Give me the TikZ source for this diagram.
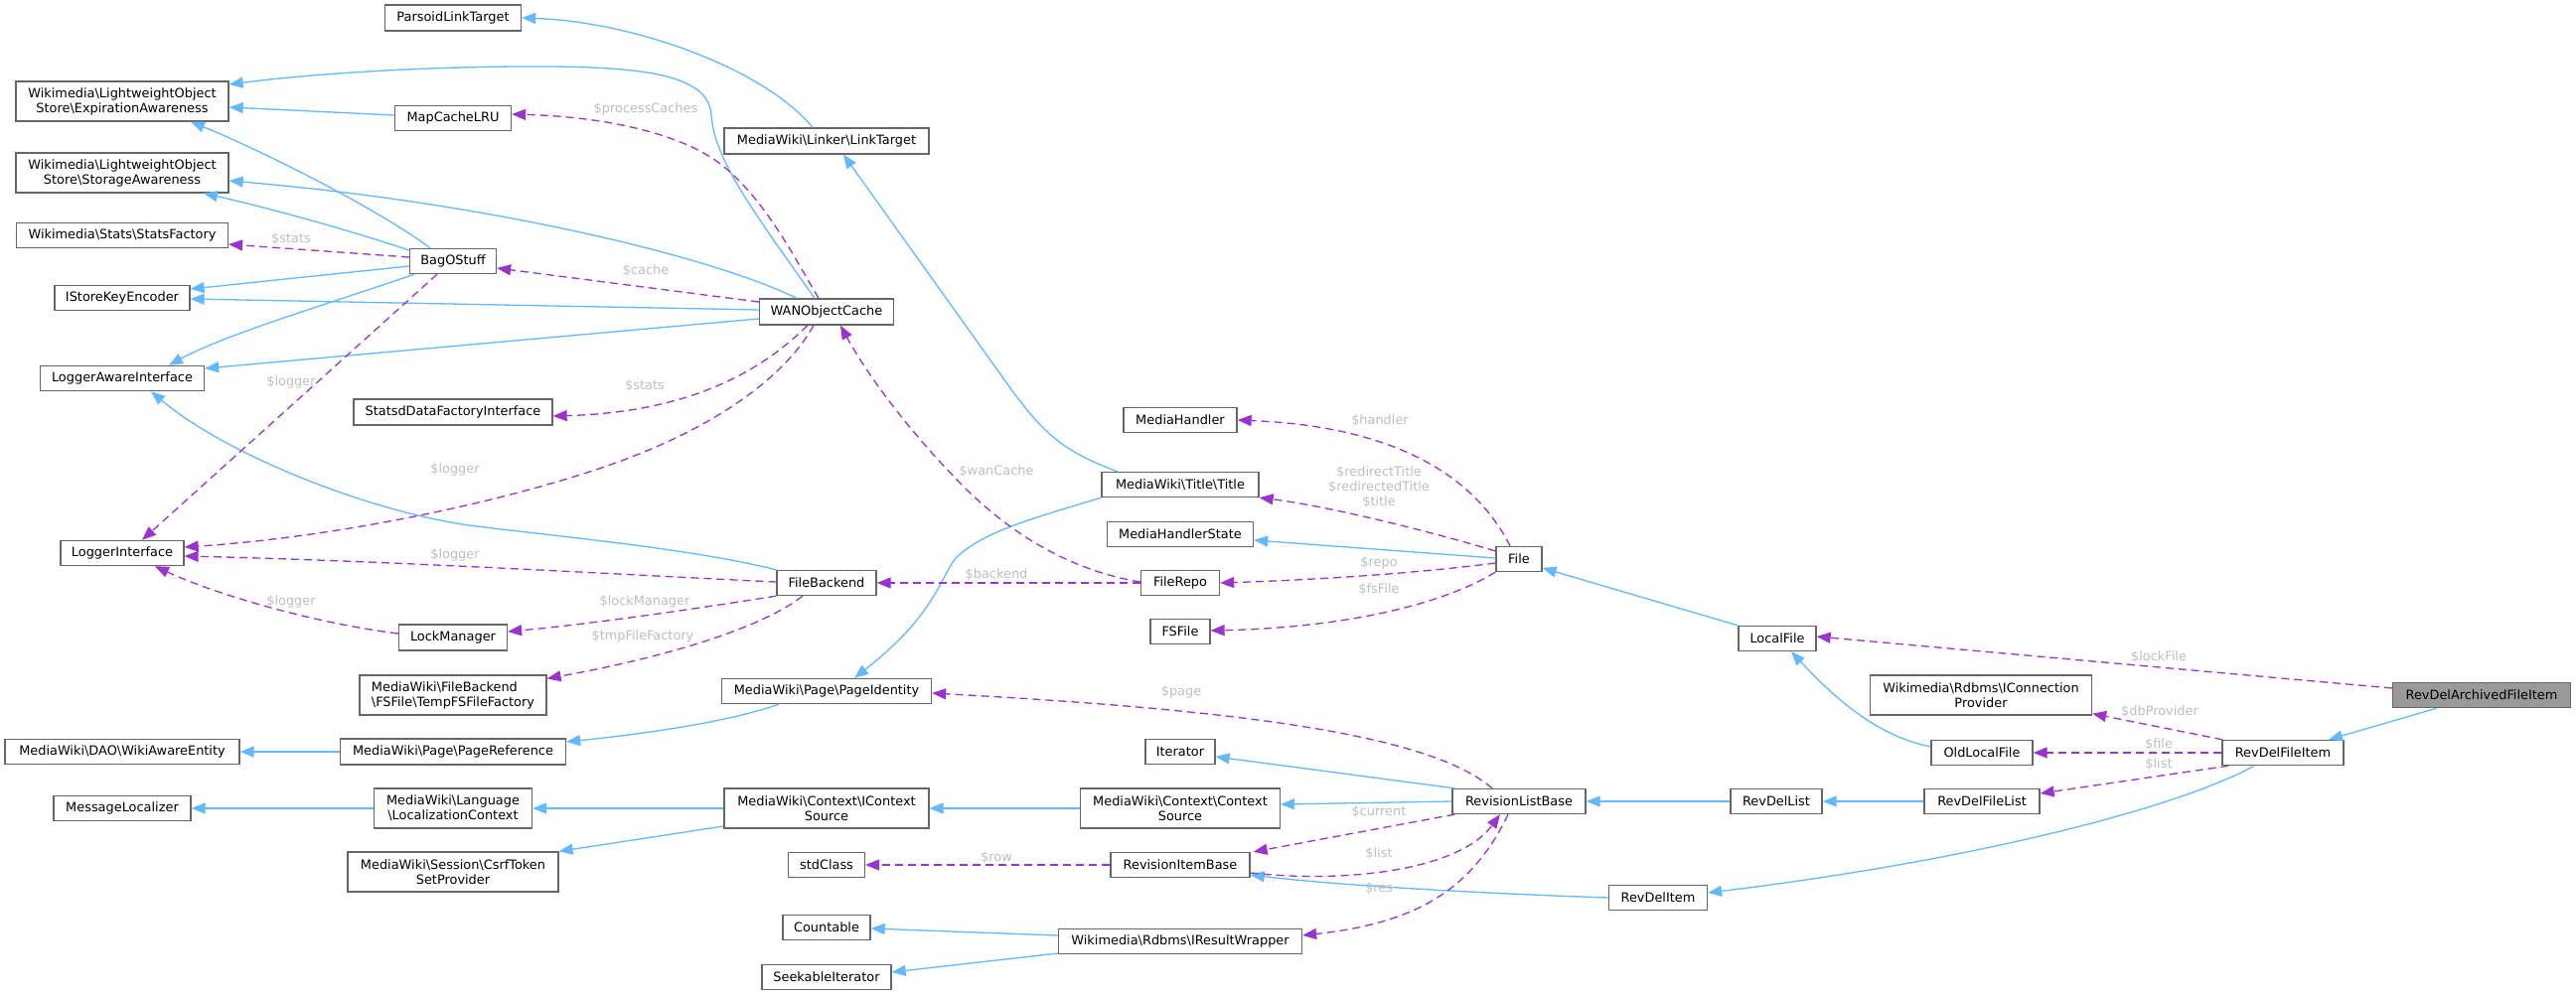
\documentclass[tikz,border=0pt]{standalone}
\usepackage{fontspec}
\setmainfont{DejaVu Sans}
\usetikzlibrary{arrows.meta}
\definecolor{inhc}{HTML}{63B8FF}
\definecolor{usec}{HTML}{9A32CD}
\definecolor{lblc}{HTML}{BEBEBE}
\definecolor{boxc}{HTML}{666666}
\definecolor{mainfill}{HTML}{999999}
\newcommand{\dgfont}{\fontsize{12.9}{15}\selectfont}
\newcommand{\bks}{\textbackslash{}}
\begin{document}
\begin{tikzpicture}[x=1pt,y=-1pt,
  box/.style={draw=boxc, line width=1.3pt, fill=white, inner sep=0pt, minimum height=25pt, align=center, font=\dgfont, text=black},
  inh/.style={draw=inhc, line width=1.3pt, -{Triangle[length=14pt,width=11pt]}},
  use/.style={draw=usec, line width=1.3pt, dash pattern=on 8pt off 5pt, -{Triangle[length=14pt,width=11pt]}},
  lbl/.style={text=lblc, font=\dgfont, inner sep=0pt, align=center},
]
\useasboundingbox (0,0) rectangle (2593,1001);
\fill[white] (0,0) rectangle (2593,1001);

% column A
\node[box, minimum width=214pt, minimum height=40pt] (exp) at (123,102) {Wikimedia\bks LightweightObject\\Store\bks ExpirationAwareness};
\node[box, minimum width=214pt, minimum height=40pt] (sto) at (123,174) {Wikimedia\bks LightweightObject\\Store\bks StorageAwareness};
\node[box, minimum width=213pt] (sfac) at (123,237) {Wikimedia\bks Stats\bks StatsFactory};
\node[box, minimum width=136pt] (iske) at (123,300) {IStoreKeyEncoder};
\node[box, minimum width=165pt] (lai) at (123,381) {LoggerAwareInterface};
\node[box, minimum width=124pt] (li) at (123,557) {LoggerInterface};
\node[box, minimum width=236pt] (wae) at (123,757) {MediaWiki\bks DAO\bks WikiAwareEntity};
\node[box, minimum width=138pt] (ml) at (123,814) {MessageLocalizer};
% column B
\node[box, minimum width=137pt, minimum height=26pt] (plt) at (456,18) {ParsoidLinkTarget};
\node[box, minimum width=117pt] (mcl) at (456,119) {MapCacheLRU};
\node[box, minimum width=87pt] (bag) at (456,263) {BagOStuff};
\node[box, minimum width=200pt, minimum height=26pt] (sdf) at (456,415) {StatsdDataFactoryInterface};
\node[box, minimum width=109pt, minimum height=26pt] (lock) at (456,642) {LockManager};
\node[box, minimum width=188pt, minimum height=40pt, align=left] (tmp) at (456,700) {MediaWiki\bks FileBackend\\\bks FSFile\bks TempFSFileFactory};
\node[box, minimum width=227pt, minimum height=26pt] (pref) at (456,757) {MediaWiki\bks Page\bks PageReference};
\node[box, minimum width=159pt, minimum height=40pt] (lctx) at (456,814) {MediaWiki\bks Language\\\bks LocalizationContext};
\node[box, minimum width=212pt, minimum height=40pt] (csrf) at (456,878) {MediaWiki\bks Session\bks CsrfToken\\SetProvider};
% column C
\node[box, minimum width=206pt, minimum height=26pt] (lt) at (832,142) {MediaWiki\bks Linker\bks LinkTarget};
\node[box, minimum width=135pt, minimum height=26pt] (wan) at (832,314) {WANObjectCache};
\node[box, minimum width=100pt] (fb) at (832,587) {FileBackend};
\node[box, minimum width=211pt] (pid) at (832,696) {MediaWiki\bks Page\bks PageIdentity};
\node[box, minimum width=206pt, minimum height=40pt] (ics) at (832,814) {MediaWiki\bks Context\bks IContext\\Source};
\node[box, minimum width=77pt] (std) at (832,871) {stdClass};
\node[box, minimum width=88pt] (cnt) at (832,934) {Countable};
\node[box, minimum width=130pt] (seek) at (832,984) {SeekableIterator};
% column D
\node[box, minimum width=114pt] (mh) at (1188,423) {MediaHandler};
\node[box, minimum width=158pt] (title) at (1188,488) {MediaWiki\bks Title\bks Title};
\node[box, minimum width=147pt] (mhs) at (1188,538) {MediaHandlerState};
\node[box, minimum width=79pt] (repo) at (1188,587) {FileRepo};
\node[box, minimum width=60pt] (fsf) at (1188,636) {FSFile};
\node[box, minimum width=70pt] (iter) at (1188,757) {Iterator};
\node[box, minimum width=201pt, minimum height=40pt] (cs) at (1188,814) {MediaWiki\bks Context\bks Context\\Source};
\node[box, minimum width=140pt] (rib) at (1188,871) {RevisionItemBase};
\node[box, minimum width=245pt] (irw) at (1188,948) {Wikimedia\bks Rdbms\bks IResultWrapper};
% right part
\node[box, minimum width=46pt] (file) at (1529,563) {File};
\node[box, minimum width=134pt] (rlb) at (1529,807) {RevisionListBase};
\node[box, minimum width=78pt] (lf) at (1789,643) {LocalFile};
\node[box, minimum width=92pt] (rdl) at (1788,807) {RevDelList};
\node[box, minimum width=99pt] (rdi) at (1669,904) {RevDelItem};
\node[box, minimum width=223pt, minimum height=40pt] (icp) at (1994,700) {Wikimedia\bks Rdbms\bks IConnection\\Provider};
\node[box, minimum width=102pt] (olf) at (1995,758) {OldLocalFile};
\node[box, minimum width=116pt] (rdfl) at (1995,807) {RevDelFileList};
\node[box, minimum width=122pt] (rdfi) at (2298,758) {RevDelFileItem};
\node[box, minimum width=179pt, fill=mainfill] (main) at (2498,700) {RevDelArchivedFileItem};

% inheritance edges
\draw[inh] ([shift={(-14,0)}]lt.north) .. controls (770,70) and (640,22) .. (plt.east);
\draw[inh] ([shift={(-12,0)}]wan.north) .. controls (760,215) and (718,160) .. (716,115) .. controls (712,75) and (650,66) .. (520,67) .. controls (400,68) and (300,76) .. ([shift={(0,-17)}]exp.east);
\draw[inh] ([shift={(0,-3)}]mcl.west) -- ([shift={(0,6)}]exp.east);
\draw[inh] ([shift={(-23,0)}]bag.north) .. controls (380,210) and (260,150) .. ([shift={(69,0)}]exp.south);
\draw[inh] ([shift={(0,-11)}]bag.west) .. controls (340,228) and (260,207) .. ([shift={(82,0)}]sto.south);
\draw[inh] ([shift={(-30,0)}]wan.north) .. controls (720,260) and (500,205) .. ([shift={(0,8)}]sto.east);
\draw[inh] ([shift={(0,5)}]bag.west) -- ([shift={(0,-9)}]iske.east);
\draw[inh] ([shift={(0,-2)}]wan.west) -- ([shift={(0,1)}]iske.east);
\draw[inh] ([shift={(-39,0)}]bag.south) .. controls (350,300) and (230,335) .. ([shift={(47,0)}]lai.north);
\draw[inh] ([shift={(0,7)}]wan.west) -- ([shift={(0,-10)}]lai.east);
\draw[inh] (fb.north west) .. controls (700,553) and (560,540) .. (480,530) .. controls (380,518) and (230,460) .. ([shift={(29,0)}]lai.south);
\draw[inh] ([shift={(-63,0)}]title.north) .. controls (1070,455) and (1050,435) .. (1020,395) -- ([shift={(17,0)}]lt.south);
\draw[inh] (title.south west) .. controls (1040,522) and (990,535) .. (962,562) .. controls (945,585) and (940,620) .. ([shift={(28,0)}]pid.north);
\draw[inh] ([shift={(-48,0)}]pid.south) .. controls (740,725) and (660,738) .. ([shift={(0,-10)}]pref.east);
\draw[inh] (pref.west) -- (wae.east);
\draw[inh] (lctx.west) -- (ml.east);
\draw[inh] (ics.west) -- (lctx.east);
\draw[inh] ([shift={(0,18)}]ics.west) -- (csrf.north east);
\draw[inh] (cs.west) -- (ics.east);
\draw[inh] (rlb.west) -- ([shift={(0,-4)}]cs.east);
\draw[inh] ([shift={(3,0)}]rlb.north west) -- ([shift={(0,5)}]iter.east);
\draw[inh] (rdl.west) -- (rlb.east);
\draw[inh] (rdfl.west) -- (rdl.east);
\draw[inh] (rdi.west) .. controls (1500,900) and (1350,892) .. ([shift={(0,10)}]rib.east);
\draw[inh] ([shift={(-29,0)}]rdfi.south) .. controls (2200,810) and (2000,865) .. ([shift={(0,-5)}]rdi.east);
\draw[inh] ([shift={(-45,0)}]main.south) -- ([shift={(46,0)}]rdfi.north);
\draw[inh] ([shift={(0,-6)}]olf.west) .. controls (1895,742) and (1855,712) .. ([shift={(14,0)}]lf.south);
\draw[inh] (lf.north west) -- ([shift={(0,9)}]file.east);
\draw[inh] ([shift={(0,-1)}]file.west) -- ([shift={(0,6)}]mhs.east);
\draw[inh] ([shift={(0,-6)}]irw.west) -- ([shift={(0,1)}]cnt.east);
\draw[inh] ([shift={(0,12)}]irw.west) -- ([shift={(0,-5)}]seek.east);

% usage edges
\draw[use] ([shift={(-8,0)}]wan.north) .. controls (800,260) and (770,200) .. (725,165) .. controls (690,138) and (620,118) .. ([shift={(0,-4)}]mcl.east);
\draw[use] ([shift={(0,-10)}]wan.west) -- ([shift={(0,7)}]bag.east);
\draw[use] ([shift={(-19,0)}]wan.south) .. controls (770,370) and (700,415) .. ([shift={(0,4)}]sdf.east);
\draw[use] ([shift={(-13,0)}]wan.south) .. controls (790,380) and (720,430) .. (620,466) .. controls (520,502) and (350,540) .. ([shift={(0,-6)}]li.east);
\draw[use] ([shift={(0,-4)}]bag.west) -- ([shift={(0,9)}]sfac.east);
\draw[use] ([shift={(-16,0)}]bag.south) -- ([shift={(20,0)}]li.north);
\draw[use] ([shift={(0,-1)}]fb.west) .. controls (650,580) and (400,565) .. ([shift={(0,3)}]li.east);
\draw[use] ([shift={(0,-4)}]lock.west) .. controls (320,628) and (220,600) .. ([shift={(33,0)}]li.south);
\draw[use] (fb.south west) .. controls (720,610) and (600,628) .. ([shift={(0,-6)}]lock.east);
\draw[use] ([shift={(-24,0)}]fb.south) .. controls (770,630) and (680,660) .. ([shift={(0,4)}]tmp.north east);
\draw[use] (repo.west) -- (fb.east);
\draw[use] ([shift={(0,-1)}]repo.west) .. controls (1080,575) and (1020,540) .. (970,490) .. controls (930,450) and (880,390) .. ([shift={(14,0)}]wan.south);
\draw[use] ([shift={(-9,0)}]file.north) .. controls (1490,490) and (1420,430) .. (mh.east);
\draw[use] ([shift={(0,-8)}]file.west) .. controls (1450,538) and (1340,510) .. (title.south east);
\draw[use] ([shift={(0,4)}]file.west) .. controls (1420,578) and (1320,584) .. (repo.east);
\draw[use] (file.south west) .. controls (1450,610) and (1350,632) .. ([shift={(0,-1)}]fsf.east);
\draw[use] ([shift={(-27,0)}]rlb.north) .. controls (1440,740) and (1250,715) .. ([shift={(0,2)}]pid.east);
\draw[use] ([shift={(3,0)}]rlb.south west) -- ([shift={(3,0)}]rib.north east);
\draw[use] ([shift={(0,8)}]rib.east) .. controls (1360,890) and (1470,875) .. ([shift={(-19,0)}]rlb.south);
\draw[use] ([shift={(-11,0)}]rlb.south) .. controls (1480,900) and (1420,930) .. ([shift={(0,-6)}]irw.east);
\draw[use] (rib.west) -- (std.east);
\draw[use] ([shift={(0,-7)}]main.west) -- ([shift={(0,-2)}]lf.east);
\draw[use] ([shift={(1,0)}]rdfi.north west) -- ([shift={(0,-2)}]icp.south east);
\draw[use] (rdfi.west) -- (olf.east);
\draw[use] ([shift={(7,0)}]rdfi.south west) -- ([shift={(0,-8)}]rdfl.east);

% labels
\node[lbl] (l1) at (650,110) {\$processCaches};
\node[lbl] (l2) at (650,273) {\$cache};
\node[lbl] (l3) at (649,389) {\$stats};
\node[lbl] (l4) at (458,473) {\$logger};
\node[lbl] (l5) at (293,241) {\$stats};
\node[lbl] (l6) at (293,385) {\$logger};
\node[lbl] (l7) at (458,559) {\$logger};
\node[lbl] (l8) at (293,606) {\$logger};
\node[lbl] (l9) at (649,606) {\$lockManager};
\node[lbl] (l10) at (647,641) {\$tmpFileFactory};
\node[lbl] (l11) at (1003,579) {\$backend};
\node[lbl] (l12) at (1003,475) {\$wanCache};
\node[lbl] (l13) at (1389,424) {\$handler};
\node[lbl] (l14) at (1388,491) {\$redirectTitle\\\$redirectedTitle\\\$title};
\node[lbl] (l15) at (1388,567) {\$repo};
\node[lbl] (l16) at (1388,594) {\$fsFile};
\node[lbl] (l17) at (1189,697) {\$page};
\node[lbl] (l18) at (1388,818) {\$current};
\node[lbl] (l19) at (1388,860) {\$list};
\node[lbl] (l20) at (1388,895) {\$res};
\node[lbl] (l21) at (1003,864) {\$row};
\node[lbl] (l22) at (2173,662) {\$lockFile};
\node[lbl] (l23) at (2174,717) {\$dbProvider};
\node[lbl] (l24) at (2173,750) {\$file};
\node[lbl] (l25) at (2173,770) {\$list};
\end{tikzpicture}
\end{document}
